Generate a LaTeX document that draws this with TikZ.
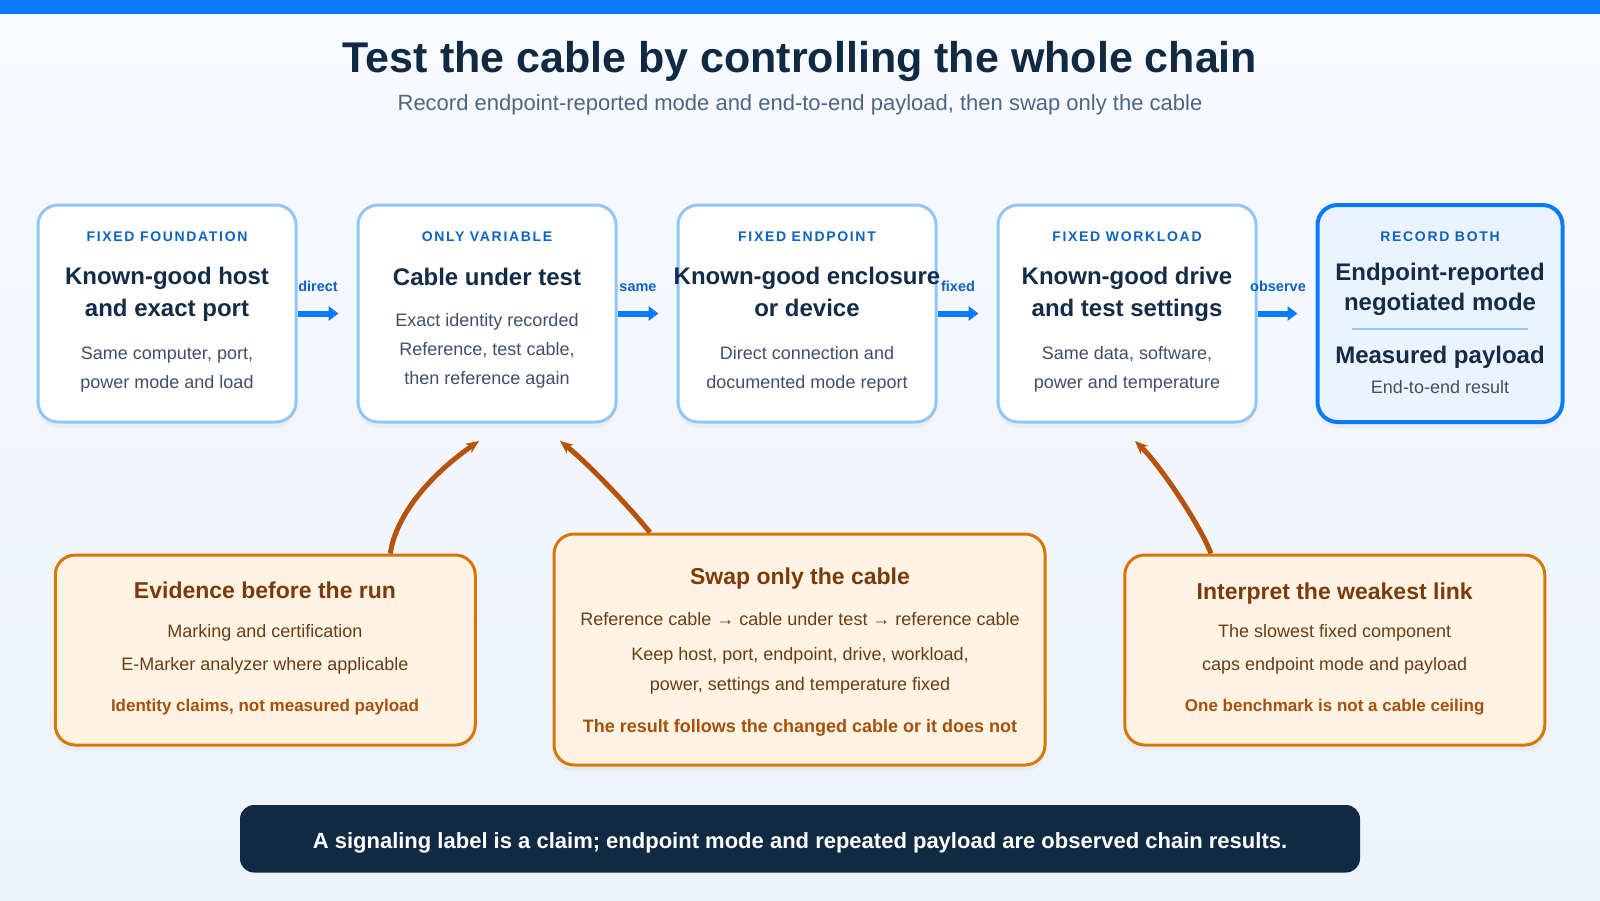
\documentclass[tikz,border=0pt]{standalone}
\usepackage{fontspec}
\setmainfont{Liberation Sans}
\newfontfamily\capsfont[LetterSpace=12]{Liberation Sans}
\usetikzlibrary{arrows.meta,shadows,calc}
\definecolor{bgtop}{HTML}{F8FAFE}
\definecolor{bgbot}{HTML}{EDF3FA}
\definecolor{topbar}{HTML}{0A7BFF}
\definecolor{titlec}{HTML}{102A43}
\definecolor{subc}{HTML}{4A6785}
\definecolor{capc}{HTML}{0B63C4}
\definecolor{boxline}{HTML}{93C5FD}
\definecolor{headc}{HTML}{132C48}
\definecolor{bodyc}{HTML}{3E5068}
\definecolor{recfill}{HTML}{EAF3FE}
\definecolor{orline}{HTML}{D97706}
\definecolor{orfill}{HTML}{FFF3E3}
\definecolor{ortitle}{HTML}{7C3A0A}
\definecolor{orbody}{HTML}{6B3C14}
\definecolor{orbold}{HTML}{A84F0A}
\definecolor{curvec}{HTML}{B45309}
\definecolor{banner}{HTML}{102A43}
\begin{document}
\begin{tikzpicture}[x=1pt,y=-1pt,
  txt/.style={inner sep=0pt, anchor=center},
  captext/.style={txt, text height=12.3pt, text depth=1.7pt, font=\capsfont\fontsize{14}{16}\selectfont\bfseries, text=capc},
  headtext/.style={txt, text height=21.1pt, text depth=2.9pt, font=\fontsize{24}{28}\selectfont\bfseries, text=headc},
  bodytext/.style={txt, text height=15.8pt, text depth=2.2pt, font=\fontsize{18}{22}\selectfont, text=bodyc},
  topbox/.style={draw=boxline, line width=3pt, fill=white, rounded corners=20pt,
     minimum width=258pt, minimum height=217pt, inner sep=0pt,
     drop shadow={opacity=0.07, shadow xshift=0pt, shadow yshift=-6pt}},
  recbox/.style={topbox, draw=topbar, line width=4pt, fill=recfill, minimum width=245pt},
  orbox/.style={draw=orline, line width=3pt, fill=orfill, rounded corners=20pt, inner sep=0pt,
     drop shadow={opacity=0.07, shadow xshift=0pt, shadow yshift=-6pt}},
  ortitletext/.style={txt, text height=20.2pt, text depth=2.8pt, font=\fontsize{23}{27}\selectfont\bfseries, text=ortitle},
  orbodytext/.style={txt, text height=15.8pt, text depth=2.2pt, font=\fontsize{18}{22}\selectfont, text=orbody},
  orboldtext/.style={txt, text height=15pt, text depth=2pt, font=\fontsize{17}{20}\selectfont\bfseries, text=orbold},
  flow/.style={draw=topbar, line width=6pt, -{Triangle[length=10pt,width=14pt]}, shorten >=18pt},
  flowlab/.style={txt, text height=12.8pt, text depth=1.7pt, font=\fontsize{14.5}{17}\selectfont\bfseries, text=capc},
  curve/.style={draw=curvec, line width=5pt, -{Stealth[length=13pt,width=11pt]}}
]
\useasboundingbox (0,0) rectangle (1600,900);
\shade[top color=bgtop, bottom color=bgbot] (0,0) rectangle (1600,900);
\fill[topbar] (0,0) rectangle (1600,14);

\node[txt, text height=37.8pt, text depth=5.2pt, font=\fontsize{43}{50}\selectfont\bfseries, text=titlec] (title) at (800,56)
  {Test the cable by controlling the whole chain};
\node[txt, text height=19.4pt, text depth=2.6pt, font=\fontsize{22}{26}\selectfont, text=subc] (subtitle) at (800,102)
  {Record endpoint-reported mode and end-to-end payload, then swap only the cable};

% top boxes
\node[topbox] (b1) at (167,313.5) {};
\node[topbox] (b2) at (487,313.5) {};
\node[topbox] (b3) at (807,313.5) {};
\node[topbox] (b4) at (1127,313.5) {};
\node[recbox] (b5) at (1440,313.5) {};

\node[captext] (c1) at (167,236) {FIXED FOUNDATION};
\node[headtext] (h1a) at (167,275.5) {Known-good host};
\node[headtext] (h1b) at (167,307) {and exact port};
\node[bodytext] (t1a) at (167,353) {Same computer, port,};
\node[bodytext] (t1b) at (167,381.6) {power mode and load};

\node[captext] (c2) at (487,236) {ONLY VARIABLE};
\node[headtext] (h2a) at (487,276.5) {Cable under test};
\node[bodytext] (t2a) at (487,320) {Exact identity recorded};
\node[bodytext] (t2b) at (487,349) {Reference, test cable,};
\node[bodytext] (t2c) at (487,377.6) {then reference again};

\node[captext] (c3) at (807,236) {FIXED ENDPOINT};
\node[headtext] (h3a) at (807,275.5) {Known-good enclosure};
\node[headtext] (h3b) at (807,307) {or device};
\node[bodytext] (t3a) at (807,353) {Direct connection and};
\node[bodytext] (t3b) at (807,381.6) {documented mode report};

\node[captext] (c4) at (1127,236) {FIXED WORKLOAD};
\node[headtext] (h4a) at (1127,275.5) {Known-good drive};
\node[headtext] (h4b) at (1127,307) {and test settings};
\node[bodytext] (t4a) at (1127,353) {Same data, software,};
\node[bodytext] (t4b) at (1127,381.6) {power and temperature};

\node[captext] (c5) at (1440,236) {RECORD BOTH};
\node[headtext] (h5a) at (1440,271.4) {Endpoint-reported};
\node[headtext] (h5b) at (1440,301) {negotiated mode};
\coordinate (d5l) at (1352,328.6);
\coordinate (d5r) at (1528,328.6);
\draw[boxline, line width=2pt] (d5l) -- (d5r);
\node[headtext] (h5c) at (1440,354) {Measured payload};
\node[bodytext] (t5a) at (1440,386.7) {End-to-end result};

% flow arrows
\draw[flow] (b1.east) -- (b2.west);
\draw[flow] (b2.east) -- (b3.west);
\draw[flow] (b3.east) -- (b4.west);
\draw[flow] (b4.east) -- (b5.west);
\node[flowlab] (l1) at (318,286) {direct};
\node[flowlab] (l2) at (638,286) {same};
\node[flowlab] (l3) at (958,286) {fixed};
\node[flowlab] (l4) at (1278,286) {observe};

% orange boxes
\node[orbox, minimum width=420pt, minimum height=190pt] (bA) at (265.25,650) {};
\node[orbox, minimum width=491pt, minimum height=231pt] (bB) at (799.5,649.5) {};
\node[orbox, minimum width=420pt, minimum height=190pt] (bC) at (1334.75,650) {};

\node[ortitletext] (tA) at (265,590) {Evidence before the run};
\node[orbodytext] (tA1) at (265,630.6) {Marking and certification};
\node[orbodytext] (tA2) at (265,664) {E-Marker analyzer where applicable};
\node[orboldtext] (tA3) at (265,705) {Identity claims, not measured payload};

\node[ortitletext] (tB) at (800,575.5) {Swap only the cable};
\node[orbodytext] (tB1) at (800,619) {Reference cable → cable under test → reference cable};
\node[orbodytext] (tB2) at (800,654) {Keep host, port, endpoint, drive, workload,};
\node[orbodytext] (tB3) at (800,683.7) {power, settings and temperature fixed};
\node[orboldtext, text height=15.8pt, text depth=2.2pt, font=\fontsize{18}{21}\selectfont\bfseries] (tB4) at (800,725.5) {The result follows the changed cable or it does not};

\node[ortitletext] (tC) at (1334.7,591) {Interpret the weakest link};
\node[orbodytext] (tC1) at (1334.7,630.6) {The slowest fixed component};
\node[orbodytext] (tC2) at (1334.7,664) {caps endpoint mode and payload};
\node[orboldtext] (tC3) at (1334.7,705) {One benchmark is not a cable ceiling};

% curved arrows
\coordinate (sA) at ($(bA.north)+(125,0)$);
\coordinate (eA) at (479,441);
\coordinate (sB) at ($(bB.north)+(-149.5,0)$);
\coordinate (eB) at (560,441);
\coordinate (sC) at ($(bC.north)+(-123.75,0)$);
\coordinate (eC) at (1135,441);
\draw[curve] (sA) .. controls (396,515) and (430,475) .. (eA);
\draw[curve] (sB) .. controls (632,510) and (590,465) .. (eB);
\draw[curve] (sC) .. controls (1200,525) and (1160,465) .. (eC);

% banner
\node[fill=banner, rounded corners=14pt, minimum width=1120pt, minimum height=67.5pt, inner sep=0pt] (ban) at (800,838.75) {};
\node[txt, text height=19.4pt, text depth=2.6pt, font=\fontsize{22}{26}\selectfont\bfseries, text=white] (bant) at (800,840)
  {A signaling label is a claim; endpoint mode and repeated payload are observed chain results.};
\end{tikzpicture}
\end{document}
